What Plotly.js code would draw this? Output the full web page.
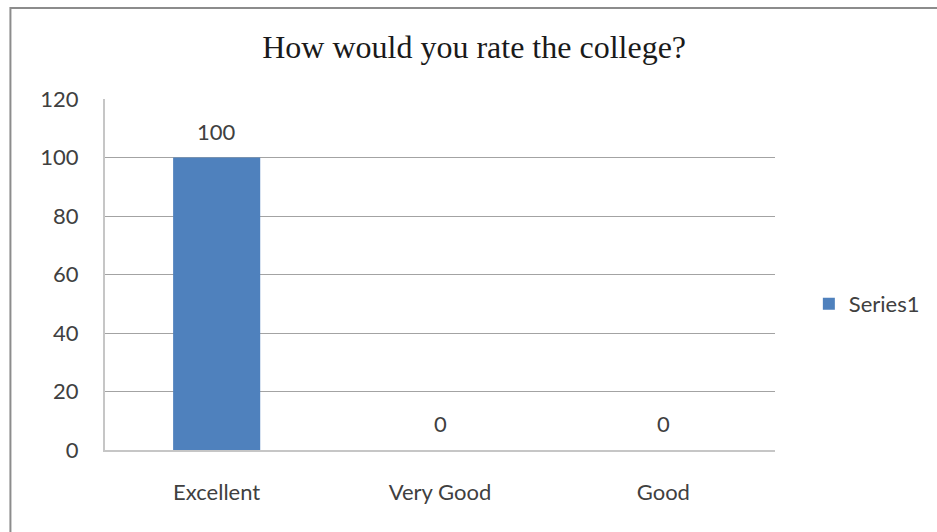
<!DOCTYPE html>
<html>
<head>
<meta charset="utf-8">
<script src="https://cdn.plot.ly/plotly-3.0.1.min.js"></script>
<style>html,body{margin:0;padding:0;background:#fff;}#chart{width:937px;height:532px;}</style>
</head>
<body>
<div id="chart"></div>
<script>
var categories = ["Excellent", "Very Good", "Good"];
var series1 = [100, 0, 0];
var seriesName = "Series1";
var yTicks = [0, 20, 40, 60, 80, 100, 120];
var chartTitle = "How would you rate the college?";

var W = 937, H = 532;
var M = {l: 105, r: 159, t: 99, b: 82};
var pw = W - M.l - M.r, ph = H - M.t - M.b;
function px(x) { return (x - M.l) / pw; }
function py(y) { return 1 - (y - M.t) / ph; }

var labelFont = {family: "Lato, 'Open Sans', sans-serif", size: 22, color: "#404040"};

var trace = {
  type: "bar",
  x: categories,
  y: series1,
  name: seriesName,
  marker: {color: "#4f81bd"},
  width: 0.39,
  showlegend: true,
  hoverinfo: "x+y"
};

var annotations = categories.map(function (c, i) {
  return {
    x: c, y: series1[i], xref: "x", yref: "y",
    text: String(series1[i]), showarrow: false,
    yanchor: "bottom", yshift: 11,
    font: labelFont
  };
});

var layout = {
  width: W, height: H,
  margin: M,
  paper_bgcolor: "#ffffff",
  plot_bgcolor: "#ffffff",
  title: {
    text: chartTitle,
    font: {family: "'Liberation Serif', 'Times New Roman', serif", size: 32, color: "#1a1a1a"},
    x: 0.506, xanchor: "center",
    y: 1 - 47 / H, yanchor: "middle"
  },
  xaxis: {
    type: "category",
    showgrid: false,
    showline: true, linecolor: "#c6c6c6", linewidth: 2,
    ticks: "", tickfont: labelFont,
    ticklabelstandoff: 22,
    fixedrange: true
  },
  yaxis: {
    range: [0, 120],
    tickvals: yTicks,
    ticktext: yTicks.map(String),
    showgrid: true, gridcolor: "#a3a3a3", gridwidth: 1,
    showline: true, linecolor: "#c6c6c6", linewidth: 2,
    zeroline: false,
    ticks: "", tickfont: labelFont,
    ticklabelstandoff: 20,
    fixedrange: true
  },
  legend: {
    x: px(812), xanchor: "left",
    y: py(304), yanchor: "middle",
    font: labelFont,
    bgcolor: "rgba(0,0,0,0)",
    itemwidth: 30
  },
  annotations: annotations,
  shapes: [{
    type: "rect", xref: "paper", yref: "paper",
    x0: px(10), x1: px(960), y0: py(560), y1: py(8),
    line: {color: "#8c8c8c", width: 2},
    fillcolor: "rgba(0,0,0,0)", layer: "below"
  }]
};

Plotly.newPlot("chart", [trace], layout, {displayModeBar: false, staticPlot: true});
</script>
</body>
</html>
